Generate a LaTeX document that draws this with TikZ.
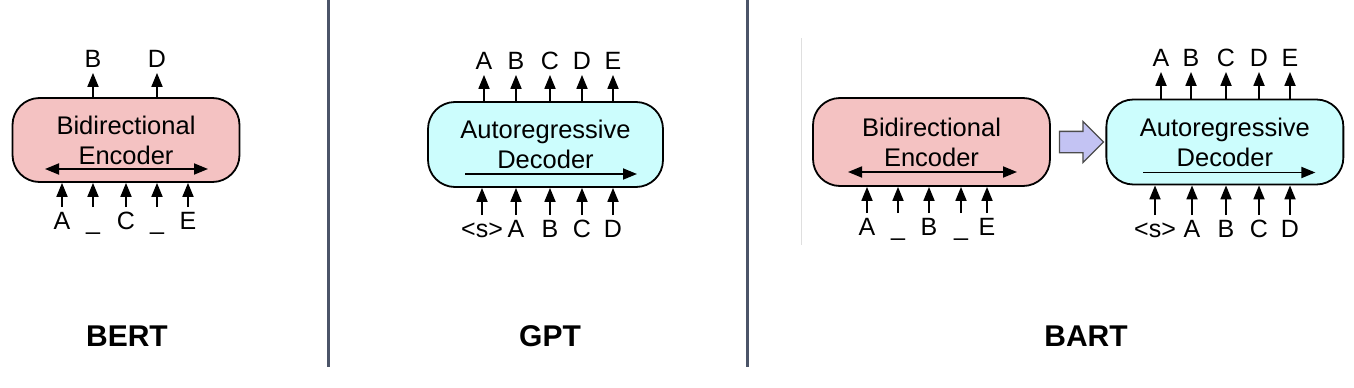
\documentclass[tikz,border=0pt]{standalone}
\usepackage{fontspec}
\setmainfont{Liberation Sans}
\usepackage{xcolor}
\usetikzlibrary{arrows.meta, positioning, shapes.arrows}

\definecolor{encpink}{HTML}{F4C2C2}
\definecolor{decblue}{HTML}{CCFDFD}
\definecolor{fatlav}{HTML}{C3C3F3}
\definecolor{sepgray}{HTML}{4B5468}

\begin{document}
\begin{tikzpicture}[x=1pt, y=-1pt, line width=1.8pt,
    box/.style={draw, rounded corners=27pt, align=center, inner sep=0pt, font=\fontsize{25.5}{30}\selectfont},
    tok/.style={anchor=base, inner sep=3pt, text height=18pt, text depth=2pt, font=\fontsize{25}{25}\selectfont},
    up/.style={-{Triangle[length=14pt, width=11pt]}},
    both/.style={{Triangle[length=14pt, width=11pt]}-{Triangle[length=14pt, width=11pt]}},
    title/.style={font=\fontsize{30}{30}\selectfont\bfseries}]
    \useasboundingbox (0,0) rectangle (1354,388);

    % panel separators
    \draw[sepgray, line width=3pt] (328,0) -- (328,367);
    \draw[sepgray, line width=3pt] (747,0) -- (747,367);
    \draw[gray!25, line width=1pt] (801,38) -- (801,245);

    % BERT
    \node[box, fill=encpink, minimum width=227pt, minimum height=84pt] (bert) at (126,140) {Bidirectional\\Encoder};
    \draw[both] ([shift={(-81,29)}]bert.center) -- ([shift={(82,29)}]bert.center);
    \foreach \x/\t [count=\i] in {62/A, 93/\_, 126/C, 157/\_, 188/E} {
        \node[tok] (bertin\i) at (\x,229) {\t};
        \draw[up] (bertin\i) -- (bertin\i |- bert.south);
    }
    \foreach \x/\t [count=\i] in {93/B, 157/D} {
        \node[tok] (bertout\i) at (\x,67) {\t};
        \draw[up] (bertout\i |- bert.north) -- (bertout\i);
    }
    \node[title] (berttitle) at (127,336) {BERT};

    % GPT
    \node[box, fill=decblue, minimum width=235pt, minimum height=85pt] (gpt) at (545.5,144.5) {Autoregressive\\Decoder};
    \draw[up] ([shift={(-80.5,29.5)}]gpt.center) -- ([shift={(91.5,29.5)}]gpt.center);
    \foreach \x/\t [count=\i] in {482/{<s>}, 516/A, 550/B, 582/C, 613/D} {
        \node[tok] (gptin\i) at (\x,237) {\t};
        \draw[up] (gptin\i) -- (gptin\i |- gpt.south);
    }
    \foreach \x/\t [count=\i] in {484/A, 516/B, 550/C, 582/D, 613/E} {
        \node[tok] (gptout\i) at (\x,69) {\t};
        \draw[up] (gptout\i |- gpt.north) -- (gptout\i);
    }
    \node[title] (gpttitle) at (550,336) {GPT};

    % BART
    \node[box, fill=encpink, minimum width=237pt, minimum height=88pt] (bartenc) at (931.5,142) {Bidirectional\\Encoder};
    \draw[both] ([shift={(-83.5,30)}]bartenc.center) -- ([shift={(85.5,30)}]bartenc.center);
    \foreach \x/\t [count=\i] in {867/A, 898/\_, 929/B, 961/\_, 987/E} {
        \node[tok] (bartin\i) at (\x,235) {\t};
        \draw[up] (bartin\i) -- (bartin\i |- bartenc.south);
    }
    \node[single arrow, draw=black!70, fill=fatlav, line width=1.3pt, inner sep=10pt,
          minimum height=44pt, single arrow head extend=10pt, right=8pt of bartenc] (fat) {};
    \node[box, fill=decblue, minimum width=237pt, minimum height=85pt, right=1pt of fat] (bartdec) {Autoregressive\\Decoder};
    \draw[up] ([shift={(-81.5,30.5)}]bartdec.center) -- ([shift={(90.5,30.5)}]bartdec.center);
    \foreach \x/\t [count=\i] in {1155/{<s>}, 1192/A, 1226/B, 1259/C, 1290/D} {
        \node[tok] (bartdin\i) at (\x,237) {\t};
        \draw[up] (bartdin\i) -- (bartdin\i |- bartdec.south);
    }
    \foreach \x/\t [count=\i] in {1161/A, 1191/B, 1226/C, 1259/D, 1290/E} {
        \node[tok] (bartdout\i) at (\x,66) {\t};
        \draw[up] (bartdout\i |- bartdec.north) -- (bartdout\i);
    }
    \node[title] (barttitle) at (1086,336) {BART};
\end{tikzpicture}
\end{document}
